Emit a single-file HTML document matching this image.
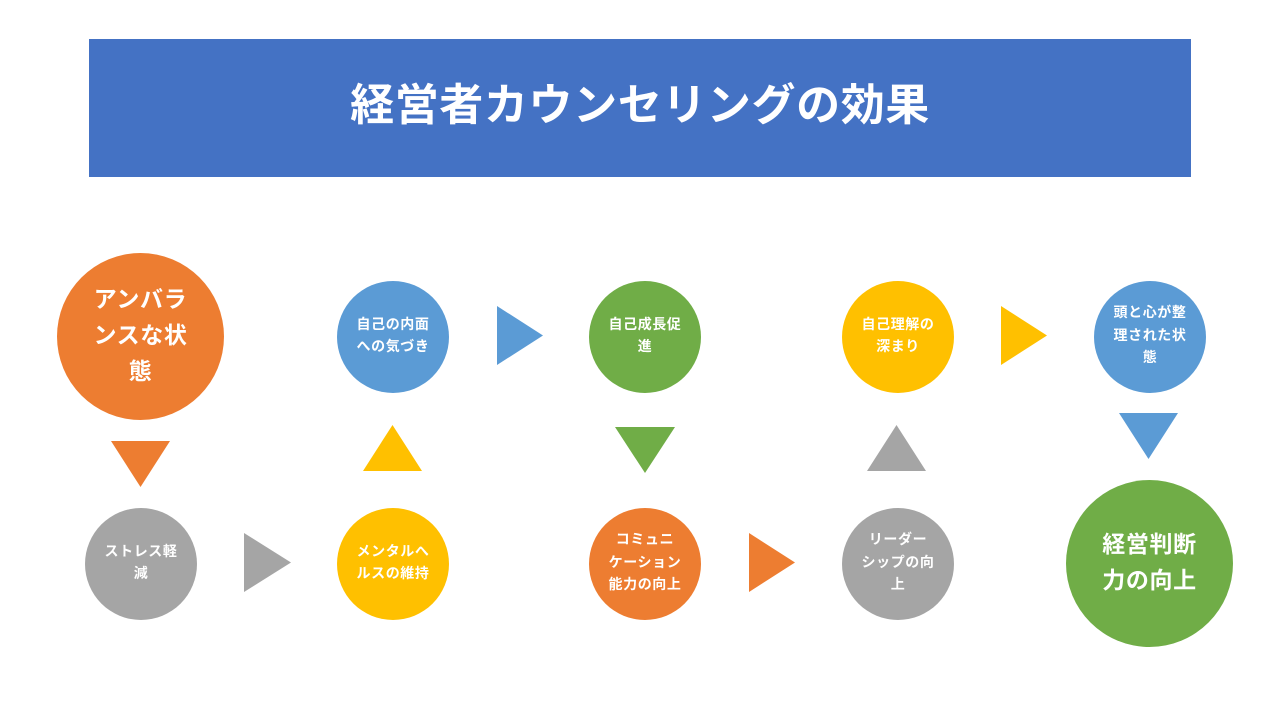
<!DOCTYPE html>
<html><head><meta charset="utf-8">
<style>
html,body{margin:0;padding:0;background:#fff;}
body{width:1280px;height:720px;position:relative;overflow:hidden;font-family:"Liberation Sans","Noto Sans CJK JP",sans-serif;}
.title{position:absolute;left:89px;top:39px;width:1102px;height:138px;background:#4472C4;color:#fff;font-weight:bold;font-size:44px;display:flex;align-items:center;justify-content:center;letter-spacing:0.6px;}
.title span{display:block;margin-top:-14px;}
.c{position:absolute;border-radius:50%;display:flex;align-items:center;justify-content:center;text-align:center;color:#fff;font-weight:bold;}
.s{width:112px;height:112px;font-size:14px;line-height:22.5px;letter-spacing:0.6px;}
.b{width:167px;height:167px;font-size:23px;line-height:36px;letter-spacing:0.6px;}
.s span,.b span{display:block;margin-top:-4px;}
svg{position:absolute;left:0;top:0;}
</style></head><body>
<div class="title"><span>経営者カウンセリングの効果</span></div>
<svg width="1280" height="720">
<polygon points="111,441 170,441 140.5,487" fill="#ED7D31"/>
<polygon points="244,533 291,562.5 244,592" fill="#A5A5A5"/>
<polygon points="363,471 422,471 392.5,425" fill="#FFC000"/>
<polygon points="497,306 543,335.5 497,365" fill="#5B9BD5"/>
<polygon points="615,427 675,427 645,473" fill="#70AD47"/>
<polygon points="749,533 795,562.5 749,592" fill="#ED7D31"/>
<polygon points="867,471 926,471 896.5,425" fill="#A5A5A5"/>
<polygon points="1001,306 1047,335.5 1001,365" fill="#FFC000"/>
<polygon points="1119,413 1178,413 1148.5,459" fill="#5B9BD5"/>
</svg>
<div class="c b" style="left:57px;top:253px;background:#ED7D31;"><span>アンバラ<br>ンスな状<br>態</span></div>
<div class="c s" style="left:337px;top:281px;background:#5B9BD5;"><span>自己の内面<br>への気づき</span></div>
<div class="c s" style="left:589px;top:281px;background:#70AD47;"><span>自己成長促<br>進</span></div>
<div class="c s" style="left:842px;top:281px;background:#FFC000;"><span>自己理解の<br>深まり</span></div>
<div class="c s" style="left:1094px;top:281px;background:#5B9BD5;"><span>頭と心が整<br>理された状<br>態</span></div>
<div class="c s" style="left:85px;top:508px;background:#A5A5A5;"><span>ストレス軽<br>減</span></div>
<div class="c s" style="left:337px;top:508px;background:#FFC000;"><span>メンタルへ<br>ルスの維持</span></div>
<div class="c s" style="left:589px;top:508px;background:#ED7D31;"><span>コミュニ<br>ケーション<br>能力の向上</span></div>
<div class="c s" style="left:842px;top:508px;background:#A5A5A5;"><span>リーダー<br>シップの向<br>上</span></div>
<div class="c b" style="left:1066px;top:480px;background:#70AD47;"><span>経営判断<br>力の向上</span></div>
</body></html>
